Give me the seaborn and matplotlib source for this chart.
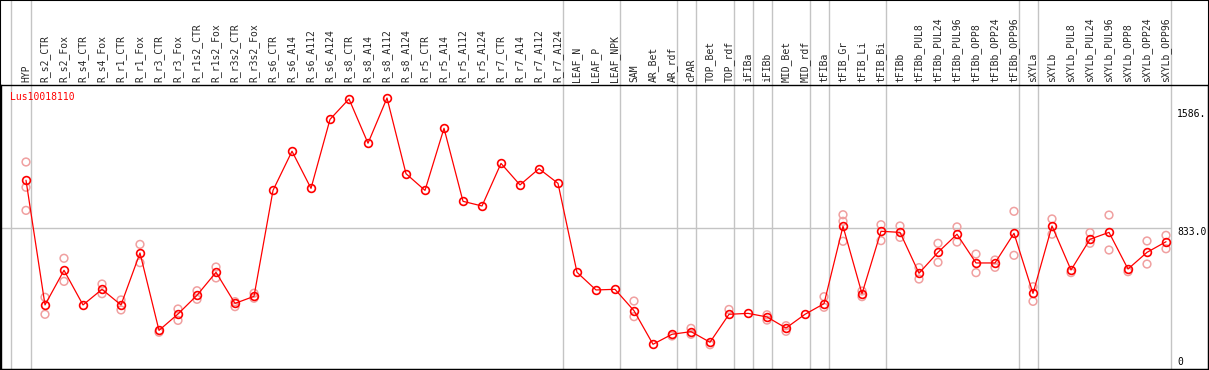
import numpy as np
import pandas as pd
import seaborn as sns
import matplotlib.pyplot as plt
from matplotlib.patches import Rectangle

# sample names (x axis, written on top)
samples = ['HYP', 'R_s2_CTR', 'R_s2_Fox', 'R_s4_CTR', 'R_s4_Fox', 'R_r1_CTR', 'R_r1_Fox',
           'R_r3_CTR', 'R_r3_Fox', 'R_r1s2_CTR', 'R_r1s2_Fox', 'R_r3s2_CTR', 'R_r3s2_Fox',
           'R_s6_CTR', 'R_s6_A14', 'R_s6_A112', 'R_s6_A124', 'R_s8_CTR', 'R_s8_A14',
           'R_s8_A112', 'R_s8_A124', 'R_r5_CTR', 'R_r5_A14', 'R_r5_A112', 'R_r5_A124',
           'R_r7_CTR', 'R_r7_A14', 'R_r7_A112', 'R_r7_A124', 'LEAF_N', 'LEAF_P', 'LEAF_NPK',
           'SAM', 'AR_Bet', 'AR_rdf', 'cPAR', 'TOP_Bet', 'TOP_rdf', 'iFIBa', 'iFIBb',
           'MID_Bet', 'MID_rdf', 'tFIBa', 'tFIB_Gr', 'tFIB_Li', 'tFIB_Bi', 'tFIBb',
           'tFIBb_PUL8', 'tFIBb_PUL24', 'tFIBb_PUL96', 'tFIBb_OPP8', 'tFIBb_OPP24',
           'tFIBb_OPP96', 'sXYLa', 'sXYLb', 'sXYLb_PUL8', 'sXYLb_PUL24', 'sXYLb_PUL96',
           'sXYLb_OPP8', 'sXYLb_OPP24', 'sXYLb_OPP96']

# mean expression
mean_vals = [1139, 340, 562, 340, 440, 340, 673, 177, 282, 402, 549, 350, 395,
             1074, 1325, 1087, 1529, 1660, 1376, 1666, 1181, 1074, 1472, 1004, 974,
             1247, 1109, 1213, 1119, 549, 436, 440,
             303, 88, 152, 169, 101, 280, 286, 263, 192, 280, 348, 844, 412, 812, 805,
             543, 677, 793, 609, 609, 799, 414, 846, 564, 761, 805, 570, 677, 745]

n = np.nan
# replicates (nan = hidden behind the mean)
rep_hi = [1256, 389, 639, n, 474, 372, 728, 165, 314, 431, 583, 361, 415,
          n, n, n, n, n, n, n, n, n, n, n, n, n, n, n, n, n, n, n,
          365, n, 141, 190, 85, 311, n, 277, 207, n, 393, 918, 429, 854, 846,
          579, 735, 840, 666, 628, 940, 457, 891, 547, 803, 916, 553, 750, 786]
rep_lo = [946, 280, 491, n, 412, 308, 611, n, 241, 376, 513, 329, 383,
          n, n, n, n, n, n, n, n, n, n, n, n, n, n, n, n, n, n, n,
          265, n, n, 152, n, n, n, 243, 171, n, 325, 748, 393, 752, 773,
          506, 613, 743, 547, 581, 658, 363, 793, n, 735, 692, n, 602, 700]
rep_mid = [1094, n, n, n, n, n, n, n, n, n, n, n, n,
           n, n, n, n, n, n, n, n, n, n, n, n, n, n, n, n, n, n, n,
           n, n, n, n, n, n, n, n, n, n, n, 876, n, n, n,
           n, n, n, n, n, n, n, n, n, n, n, n, n, n]

# index of last sample in each group (-1 = left edge)
group_ends = [-1, 0, 28, 31, 34, 35, 37, 38, 39, 41, 42, 45, 52, 53, 60]
tick_vals = [0, 833.0, 1586]
tick_text = ['0', '833.0', '1586.']

pos = np.arange(len(samples))
df = pd.DataFrame({'pos': pos, 'mean': mean_vals})
reps = pd.DataFrame({'pos': np.tile(pos, 3),
                     'value': rep_hi + rep_lo + rep_mid}).dropna()

sns.set_style('white')
mono = 'DejaVu Sans Mono'

W, H = 1209, 370
fig = plt.figure(figsize=(W / 100, H / 100), dpi=100)
ax = fig.add_axes([1 / W, 1 / H, 1207 / W, 284 / H])

# pixel scale of the original
ppu = 130 / 833
x0 = (1 - 26) / 19
x1 = (1208 - 26) / 19
ax.set_xlim(x0, x1)
ax.set_ylim((358 - 369) / ppu, (358 - 85) / ppu)

grid_c = '#c4c4c4'
for g in group_ends:
    off = 0.2 if g < 0 else 0.25
    ax.axvline(g + off, ymin=0, ymax=369 / 284, color=grid_c, lw=1, clip_on=False, zorder=0)
ax.hlines(833, x0, (1171 - 26) / 19, color=grid_c, lw=1, zorder=0)

sns.scatterplot(data=reps, x='pos', y='value', ax=ax, marker='o', s=31,
                facecolors='none', edgecolors='#f0a0a0', linewidth=1.1, zorder=2)
sns.lineplot(data=df, x='pos', y='mean', ax=ax, estimator=None, color='red', lw=0.9,
             marker='o', markersize=5.6, markerfacecolor='none', markeredgecolor='red',
             markeredgewidth=1.2, zorder=3)

ax.xaxis.tick_top()
ax.set_xticks(pos)
ax.set_xticklabels(samples, rotation=90, fontfamily=mono, fontsize=7)
ax.tick_params(axis='x', length=0, pad=2)
ax.set_yticks([])
ax.set_xlabel('')
ax.set_ylabel('')
for s in ax.spines.values():
    s.set_color('black')
    s.set_linewidth(1.0)

# value labels on the right
for v, t in zip(tick_vals, tick_text):
    ax.annotate(t, xy=((1177 - 26) / 19, v), textcoords='offset pixels', xytext=(0, -4),
                ha='left', va='center', fontsize=7, fontfamily=mono, color='black')

ax.annotate('Lus10018110', xy=(10, H - 97), xycoords='figure pixels', ha='left',
            va='center', fontsize=7, fontfamily=mono, color='red')

fig.patches.append(Rectangle((0, 0), 1, 1, transform=fig.transFigure, fill=False,
                             edgecolor='black', lw=1.5))

fig.savefig('out.png', dpi=100)
